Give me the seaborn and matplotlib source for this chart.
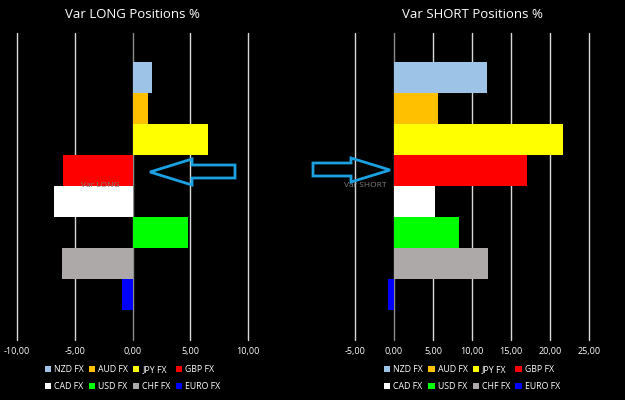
import matplotlib
matplotlib.use("Agg")
import matplotlib.pyplot as plt
import seaborn as sns
import pandas as pd
from matplotlib.patches import Patch, Polygon
from matplotlib.ticker import FuncFormatter

categories = ["NZD FX", "AUD FX", "JPY FX", "GBP FX", "CAD FX", "USD FX", "CHF FX", "EURO FX"]
long_values = [1.7, 1.3, 6.5, -6.0, -6.8, 4.8, -6.1, -0.9]
short_values = [11.9, 5.6, 21.7, 17.0, 5.3, 8.3, 12.0, -0.8]
colors = ["#9DC3E6", "#FFC000", "#FFFF00", "#FF0000", "#FFFFFF", "#00FF00", "#ADA9A8", "#0000FF"]
long_ticks = [-10, -5, 0, 5, 10]
short_ticks = [-5, 0, 5, 10, 15, 20, 25]

sns.set_theme(style="dark")
plt.rcParams['font.family'] = ['Open Sans', 'DejaVu Sans']

W, H = 625, 400
fig = plt.figure(figsize=(6.25, 4.0), dpi=100, facecolor="black")

def ax_rect(x0, x1, y0, y1):
    return [x0 / W, 1 - y1 / H, (x1 - x0) / W, (y1 - y0) / H]

axL = fig.add_axes(ax_rect(17, 248, 33, 340))
axR = fig.add_axes(ax_rect(355, 589, 33, 340))

fmt = FuncFormatter(lambda v, p: f"{v:.2f}".replace(".", ","))
pal = dict(zip(categories, colors))

for ax, vals, ticks, title, label, lab_x in [
    (axL, long_values, long_ticks, "Var LONG Positions %", "Var LONG", -2.8),
    (axR, short_values, short_ticks, "Var SHORT Positions %", "Var SHORT", -3.7),
]:
    df = pd.DataFrame({"cat": categories, "val": vals})
    ax.set_facecolor("black")
    sns.barplot(data=df, x="val", y="cat", hue="cat", palette=pal, orient="h",
                width=1.0, legend=False, ax=ax, saturation=1, zorder=3,
                linewidth=0, edgecolor="none")
    ax.set_xlim(ticks[0], ticks[-1])
    ax.set_ylim(8.47, -1.435)
    ax.set_xticks(ticks)
    ax.xaxis.set_major_formatter(fmt)
    ax.set_yticks([])
    ax.set_xlabel("")
    ax.set_ylabel("")
    ax.grid(False)
    for t in ticks:
        if t == 0:
            ax.axvline(0, color="#8C8C8C", lw=1.0, zorder=2, clip_on=False)
        else:
            ax.axvline(t, color="#D9D9D9", lw=1.0, zorder=1, clip_on=False)
    for s in ax.spines.values():
        s.set_visible(False)
    ax.tick_params(axis="x", colors="white", labelsize=6.5, length=0, pad=5)
    pos = ax.get_position()
    fig.text(pos.x0 + pos.width / 2, 1 - 14 / H, title, color="white",
             fontsize=9.5, ha="center", va="center")
    ax.text(lab_x, 3.47, label, color="#7F7F7F", fontsize=6, ha="center",
            va="center", zorder=5)
    order = [0, 4, 1, 5, 2, 6, 3, 7]
    handles = [Patch(facecolor=colors[i], edgecolor="none", label=categories[i]) for i in order]
    fig.legend(handles=handles, ncol=4, loc="center",
               bbox_to_anchor=(pos.x0 + pos.width / 2, 1 - 378 / H),
               frameon=False, fontsize=6.3, labelcolor="white",
               handlelength=0.7, handleheight=0.7, handletextpad=0.35,
               columnspacing=0.6, labelspacing=0.95)

def px(pts):
    return [(x / W, 1 - y / H) for x, y in pts]

arrow_color = "#1BA1E2"
left_arrow = [(150, 172), (192, 159), (192, 165), (235, 165), (235, 178), (192, 178), (192, 185)]
right_arrow = [(313, 163), (351, 163), (351, 158), (390, 170), (351, 182), (351, 176), (313, 176)]
for pts in (left_arrow, right_arrow):
    fig.patches.append(Polygon(px(pts), closed=True, fill=False, edgecolor=arrow_color,
                               lw=2, transform=fig.transFigure, figure=fig, zorder=10))

fig.savefig("out.png", dpi=100, facecolor="black")
